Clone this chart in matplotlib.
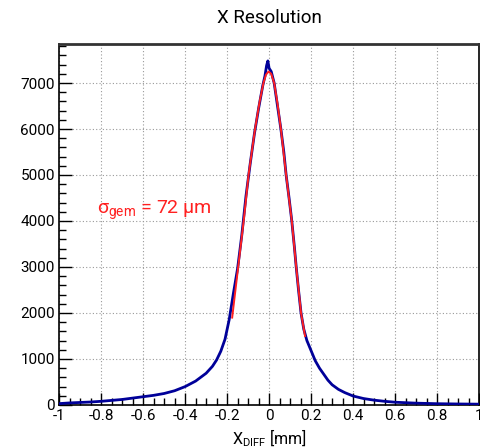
#!/usr/bin/env python3
import matplotlib
matplotlib.use("Agg")
import matplotlib.pyplot as plt
from matplotlib.ticker import MultipleLocator, FuncFormatter

plt.rcParams['font.family'] = ['Roboto', 'DejaVu Sans']

# histogram (x in mm, counts)
x_hist = [-1.00, -0.95, -0.90, -0.85, -0.80, -0.75, -0.70, -0.65, -0.60, -0.55,
          -0.50, -0.45, -0.40, -0.35, -0.30, -0.27, -0.25, -0.23, -0.21, -0.19,
          -0.17, -0.15, -0.13, -0.11, -0.09, -0.07, -0.05, -0.03, -0.02, -0.012,
          -0.006, 0.000, 0.010, 0.024, 0.040, 0.056, 0.070, 0.081, 0.095, 0.108,
          0.120, 0.129, 0.140, 0.152, 0.165, 0.180, 0.200, 0.220, 0.240, 0.260,
          0.280, 0.300, 0.330, 0.360, 0.400, 0.450, 0.500, 0.550, 0.600, 0.700,
          0.800, 0.900, 1.000]
y_hist = [30, 45, 55, 65, 80, 100, 120, 150, 180, 210,
          250, 310, 400, 520, 690, 840, 980, 1170, 1430, 1860,
          2430, 2970, 3700, 4550, 5250, 5900, 6450, 6950, 7150, 7380,
          7480, 7320, 7250, 7000, 6500, 6000, 5500, 5000, 4500, 4000,
          3450, 3000, 2500, 2000, 1650, 1400, 1180, 960, 800, 670,
          540, 440, 340, 270, 195, 140, 105, 80, 60, 40,
          28, 22, 18]

# gaussian fit curve
x_fit = [-0.176, -0.15, -0.12, -0.098, -0.067, -0.045, -0.027, -0.015, -0.003,
         0.010, 0.024, 0.040, 0.056, 0.081, 0.108, 0.129, 0.152, 0.171]
y_fit = [1900, 2900, 4050, 5000, 6000, 6600, 7000, 7180, 7250,
         7200, 7000, 6550, 6000, 5000, 4000, 3000, 2000, 1500]

fig = plt.figure(figsize=(4.81, 4.48), dpi=100)
ax = fig.add_axes([0.123, 0.096, 0.873, 0.806])

ax.plot(x_hist, y_hist, color="#000099", lw=2.0, zorder=3)
ax.plot(x_fit, y_fit, color="#ff2020", lw=1.4, zorder=4)

ax.set_xlim(-1, 1)
ax.set_ylim(0, 7850)

ax.xaxis.set_major_locator(MultipleLocator(0.2))
ax.xaxis.set_minor_locator(MultipleLocator(0.05))
ax.yaxis.set_major_locator(MultipleLocator(1000))
ax.yaxis.set_minor_locator(MultipleLocator(200))
ax.xaxis.set_major_formatter(FuncFormatter(lambda v, p: "%g" % round(v, 2)))
ax.tick_params(which="major", direction="in", length=9, width=1, labelsize=11, pad=3)
ax.tick_params(which="minor", direction="in", length=5, width=1)
ax.grid(True, which="major", linestyle=(0, (1, 2)), color="#999999", lw=0.8)

for s in ax.spines.values():
    s.set_linewidth(1.2)
ax.spines["top"].set_linewidth(2)
ax.spines["top"].set_color("#333333")

ax.set_title("X Resolution", fontsize=13.5, pad=15)
ax.set_xlabel(r"X$_{\mathregular{DIFF}}$ [mm]", fontsize=11.5, labelpad=3)

ax.text(-0.82, 4150, "σ$_{\\mathregular{gem}}$ = 72 μm", color="#ff2020",
        fontsize=14, va="baseline", ha="left")

fig.savefig("out.png")
plt.close(fig)
